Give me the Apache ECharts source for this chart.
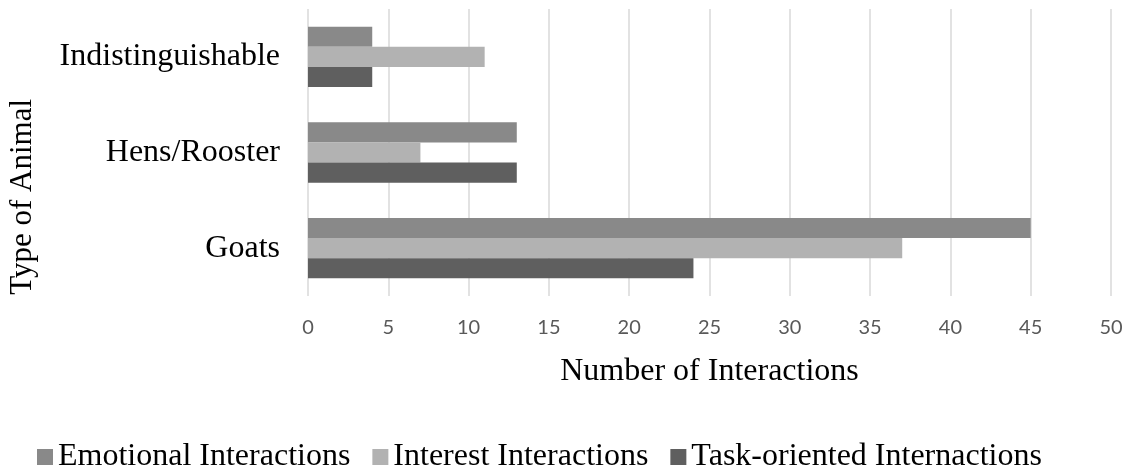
<!DOCTYPE html>
<html>
<head>
<meta charset="utf-8">
<script src="https://cdn.jsdelivr.net/npm/echarts@6/dist/echarts.min.js"></script>
<style>html,body{margin:0;padding:0;background:#fff;}#c{width:1128px;height:471px;}</style>
</head>
<body>
<div id="c"></div>
<script>
const categories = ['Goats', 'Hens/Rooster', 'Indistinguishable'];
const emotional = [45, 13, 4];
const interest = [37, 7, 11];
const taskOriented = [24, 13, 4];
const xTicks = [0, 5, 10, 15, 20, 25, 30, 35, 40, 45, 50];
const seriesNames = ['Emotional Interactions', 'Interest Interactions', 'Task-oriented Internactions'];

const chart = echarts.init(document.getElementById('c'), null, {renderer: 'canvas'});
const serif = '"Liberation Serif", "Times New Roman", serif';
const colors = ['#898989', '#b2b2b2', '#5f5f5f'];
const vals = [emotional, interest, taskOriented];
chart.setOption({
  animation: false,
  backgroundColor: '#fff',
  grid: {left: 308, right: 17, top: 9, bottom: 175, containLabel: false},
  legend: {
    data: seriesNames,
    left: 32, top: 436,
    itemWidth: 16, itemHeight: 16, itemGap: 22,
    icon: 'rect',
    textStyle: {fontFamily: serif, fontSize: 32, color: '#000'}
  },
  xAxis: {
    type: 'value', min: xTicks[0], max: xTicks[xTicks.length - 1], interval: 5,
    name: 'Number of Interactions', nameLocation: 'middle', nameGap: 60,
    nameTextStyle: {fontFamily: serif, fontSize: 32, color: '#000'},
    axisLine: {show: false}, axisTick: {show: false},
    axisLabel: {fontFamily: 'Lato, "Open Sans", sans-serif', fontSize: 20, color: '#595959', margin: 22},
    splitLine: {lineStyle: {color: '#d9d9d9', width: 1.5}}
  },
  yAxis: {
    type: 'category', data: categories,
    axisLine: {show: false}, axisTick: {show: false},
    axisLabel: {fontFamily: serif, fontSize: 32, color: '#000', margin: 28}
  },
  graphic: [{
    type: 'text', left: 7, top: 99, rotation: Math.PI / 2,
    style: {text: 'Type of Animal', fontFamily: serif, fontSize: 31, fill: '#000'}
  }],
  series: seriesNames.map((n, i) => ({
    name: n, type: 'bar', data: vals[i],
    barGap: '0%', barCategoryGap: '37%',
    itemStyle: {color: colors[i]}
  }))
});
</script>
</body>
</html>
